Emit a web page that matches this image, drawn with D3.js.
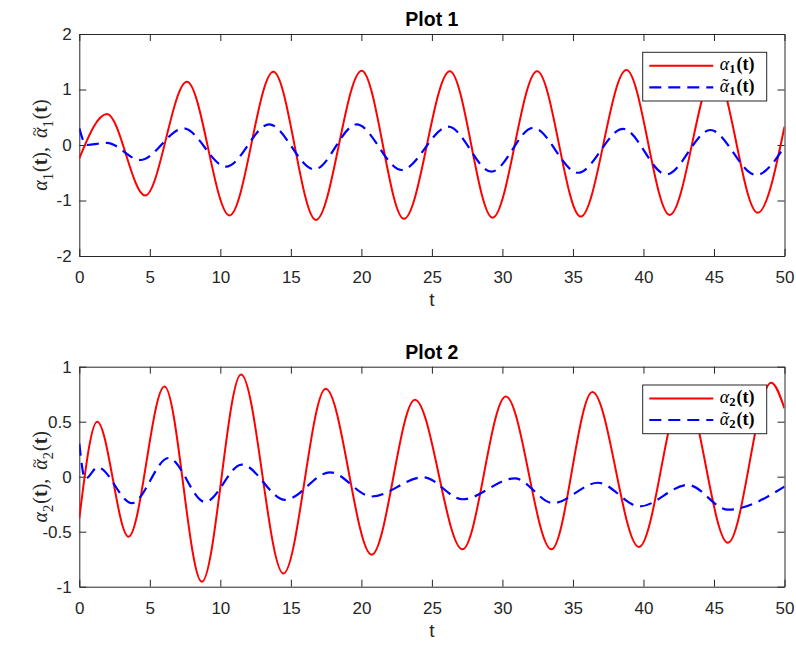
<!DOCTYPE html>
<html>
<head>
<meta charset="utf-8">
<script src="https://cdn.jsdelivr.net/npm/d3@7/dist/d3.min.js"></script>
<style>
  html, body { margin: 0; padding: 0; background: #fff; }
  svg { display: block; }
</style>
</head>
<body>
<div id="chart"></div>
<script>
// ---------------- data ----------------
const xTicks = [0, 5, 10, 15, 20, 25, 30, 35, 40, 45, 50];
const y1Ticks = [-2, -1, 0, 1, 2];
const y2Ticks = [-1, -0.5, 0, 0.5, 1];
const titles = ["Plot 1", "Plot 2"];

// Plot 1, alpha_1(t): extrema + end points
const alpha1T = [0, 1.96, 4.67, 7.63, 10.65, 13.76, 16.78, 20.02, 23.02, 26.27, 29.3, 32.46, 35.55, 38.79, 41.86, 45.05, 48.1, 50];
const alpha1V = [-0.24, 0.56, -0.91, 1.14, -1.27, 1.32, -1.35, 1.34, -1.33, 1.33, -1.31, 1.33, -1.29, 1.35, -1.26, 1.32, -1.22, 0.33];

// Plot 1, alpha~_1(t)
const alpha1TildeT = [0, 0.5, 1.96, 4.32, 7.39, 10.41, 13.46, 16.67, 19.66, 22.85, 26.16, 29.23, 32.18, 35.36, 38.55, 41.62, 44.74, 47.99, 50];
const alpha1TildeV = [0.30, 0.0, 0.04, -0.27, 0.30, -0.39, 0.37, -0.44, 0.37, -0.45, 0.33, -0.48, 0.31, -0.50, 0.29, -0.53, 0.27, -0.54, -0.03];

// Plot 2, alpha_2(t)
const alpha2T = [0, 1.27, 3.49, 6.04, 8.69, 11.47, 14.47, 17.47, 20.73, 23.8, 27.17, 30.24, 33.48, 36.38, 39.68, 42.85, 45.99, 49.06, 50];
const alpha2V = [-0.38, 0.5, -0.545, 0.82, -0.955, 0.93, -0.88, 0.80, -0.71, 0.70, -0.66, 0.73, -0.66, 0.77, -0.64, 0.80, -0.60, 0.855, 0.62];

// Plot 2, alpha~_2(t)
const alpha2TildeT = [0, 0.42, 1.3, 3.73, 6.33, 8.92, 11.52, 14.59, 17.78, 20.73, 24.39, 27.17, 30.88, 33.59, 36.78, 39.73, 43.15, 45.99, 50];
const alpha2TildeV = [0.30, -0.02, 0.085, -0.24, 0.17, -0.23, 0.11, -0.21, 0.04, -0.18, -0.005, -0.205, -0.015, -0.24, -0.055, -0.27, -0.075, -0.30, -0.09];

// ---------------- drawing ----------------
const W = 796, H = 645;
const AX = "#262626";
const SERIF = "'Liberation Serif', 'DejaVu Serif', serif";
const svg = d3.select("#chart").append("svg").attr("width", W).attr("height", H)
  .style("font-family", "'Liberation Sans', Arial, Helvetica, sans-serif");

const left = 79.3, right = 784.5;
const panels = [
  { top: 34, bottom: 256, yDomain: [-2, 2], yTicks: y1Ticks, title: titles[0], idx: "1",
    solid: [alpha1T, alpha1V], dashed: [alpha1TildeT, alpha1TildeV] },
  { top: 366.7, bottom: 586.7, yDomain: [-1, 1], yTicks: y2Ticks, title: titles[1], idx: "2",
    solid: [alpha2T, alpha2V], dashed: [alpha2TildeT, alpha2TildeV] }
];

const fmt = d => String(d);

// append α (optionally with a tilde accent above it) then the subscript index.
function appendAlphaSub(sel, tilde, size, idx, opts) {
  const o = Object.assign({ tildeChar: "~", tildeScale: 0.8, tildeRaise: 0.36, subDrop: 0.28, subScale: 0.72, boldSub: false }, opts || {});
  const a = sel.append("tspan").attr("font-style", "italic").text("\u03B1");
  let backDx = 0, backDy = 0;
  if (tilde) {
    const aw = a.node().getComputedTextLength();
    const ts = size * o.tildeScale, tdy = size * o.tildeRaise;
    const tl = sel.append("tspan").attr("font-style", "normal").attr("font-size", ts + "px").text(o.tildeChar);
    const tw = tl.node().getComputedTextLength();
    tl.attr("dx", -(aw + tw) / 2 + size * 0.05).attr("dy", -tdy);
    backDx = (aw - tw) / 2 - size * 0.05;
    backDy = tdy;
  }
  const s = sel.append("tspan").attr("font-size", (size * o.subScale) + "px")
    .attr("dx", backDx).attr("dy", backDy + size * o.subDrop).text(idx);
  if (o.boldSub) s.attr("font-weight", "bold");
}

panels.forEach((p, i) => {
  const x = d3.scaleLinear().domain([0, 50]).range([left, right]);
  const y = d3.scaleLinear().domain(p.yDomain).range([p.bottom, p.top]);
  const g = svg.append("g");

  const clipId = "clip" + i;
  svg.append("clipPath").attr("id", clipId).append("rect")
    .attr("x", left).attr("y", p.top).attr("width", right - left).attr("height", p.bottom - p.top);

  // axes
  const styleAxis = a => {
    a.selectAll("path.domain").attr("stroke", AX).attr("stroke-width", 1);
    a.selectAll(".tick line").attr("stroke", AX).attr("stroke-width", 1);
    a.selectAll(".tick text").attr("fill", AX).style("font-size", "17px")
      .style("font-family", "'Liberation Sans', Arial, sans-serif");
  };
  const xb = g.append("g").attr("transform", `translate(0,${p.bottom})`)
    .call(d3.axisBottom(x).tickValues(xTicks).tickFormat(fmt).tickSizeInner(-7).tickSizeOuter(0).tickPadding(15.2));
  styleAxis(xb);
  const xt = g.append("g").attr("transform", `translate(0,${p.top})`)
    .call(d3.axisTop(x).tickValues(xTicks).tickFormat("").tickSizeInner(-7).tickSizeOuter(0));
  styleAxis(xt);
  const yl = g.append("g").attr("transform", `translate(${left},0)`)
    .call(d3.axisLeft(y).tickValues(p.yTicks).tickFormat(fmt).tickSizeInner(-7).tickSizeOuter(0).tickPadding(7.6));
  styleAxis(yl);
  const yr = g.append("g").attr("transform", `translate(${right},0)`)
    .call(d3.axisRight(y).tickValues(p.yTicks).tickFormat("").tickSizeInner(-7).tickSizeOuter(0));
  styleAxis(yr);

  // lines
  const line = d3.line().x(d => x(d[0])).y(d => y(d[1])).curve(d3.curveMonotoneX);
  const solidData = p.solid[0].map((t, k) => [t, p.solid[1][k]]);
  const dashedData = p.dashed[0].map((t, k) => [t, p.dashed[1][k]]);
  const lines = g.append("g").attr("clip-path", `url(#${clipId})`);
  lines.append("path").datum(solidData).attr("d", line)
    .attr("fill", "none").attr("stroke", "#ff0000").attr("stroke-width", 2);
  lines.append("path").datum(dashedData).attr("d", line)
    .attr("fill", "none").attr("stroke", "#0000ff").attr("stroke-width", 2.2)
    .attr("stroke-dasharray", "12,7");

  // title
  g.append("text").attr("x", (left + right) / 2).attr("y", p.top - 8)
    .attr("text-anchor", "middle").attr("fill", "#000")
    .style("font-size", "19.5px").style("font-weight", "bold").text(p.title);

  // x label
  g.append("text").attr("x", (left + right) / 2).attr("y", p.bottom + 50)
    .attr("text-anchor", "middle").attr("fill", AX)
    .style("font-size", "19px").text("t");

  // y label
  const ylab = g.append("text")
    .attr("transform", `translate(47,${(p.top + p.bottom) / 2}) rotate(-90)`)
    .attr("text-anchor", "middle").attr("fill", AX);
  const ys = 20;
  ylab.style("font-family", SERIF).style("font-size", ys + "px");
  appendAlphaSub(ylab, false, ys, p.idx);
  ylab.append("tspan").attr("dy", -ys * 0.28).attr("dx", 1).text("(");
  ylab.append("tspan").attr("font-weight", "bold").text("t");
  ylab.append("tspan").text("),\u2009 ");
  appendAlphaSub(ylab, true, ys, p.idx);
  ylab.append("tspan").attr("dy", -ys * 0.28).attr("dx", 1).text("(");
  ylab.append("tspan").attr("font-weight", "bold").text("t");
  ylab.append("tspan").text(")");

  // legend
  const lx = 642.7, ly = p.top + 18.3, lw = 124, lh = 48.7;
  const lg = g.append("g");
  lg.append("rect").attr("x", lx).attr("y", ly).attr("width", lw).attr("height", lh)
    .attr("fill", "#fff").attr("stroke", AX).attr("stroke-width", 1);
  const r1 = ly + 13.4, r2 = ly + 35;
  lg.append("line").attr("x1", lx + 6.6).attr("x2", lx + 70.6).attr("y1", r1).attr("y2", r1)
    .attr("stroke", "#ff0000").attr("stroke-width", 2);
  lg.append("line").attr("x1", lx + 6.6).attr("x2", lx + 70.6).attr("y1", r2).attr("y2", r2)
    .attr("stroke", "#0000ff").attr("stroke-width", 2.2).attr("stroke-dasharray", "12,7");
  const fs = 18, drop = 0.17;
  [[r1 + 4.5, false], [r2 + 5, true]].forEach(([by, tilde]) => {
    const lt = lg.append("text").attr("x", lx + 77).attr("y", by).attr("fill", "#000")
      .style("font-family", SERIF).style("font-size", fs + "px");
    appendAlphaSub(lt, tilde, fs, p.idx, { tildeChar: "\u02DC", tildeScale: 1.0, tildeRaise: 0, subDrop: drop, subScale: 0.7, boldSub: true });
    lt.append("tspan").attr("font-weight", "bold").attr("dy", -fs * drop).attr("dx", 1).text("(t)");
  });
});
</script>
</body>
</html>
